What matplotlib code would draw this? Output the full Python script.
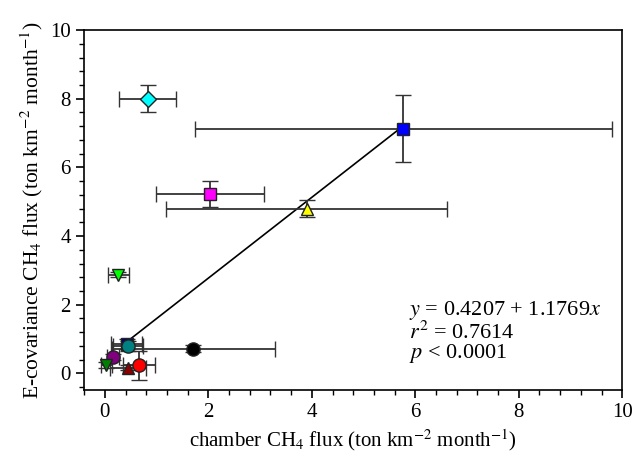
import matplotlib
matplotlib.use("Agg")
import matplotlib.pyplot as plt
from matplotlib.ticker import MultipleLocator

plt.rcParams.update(
    {
        "font.family": "Liberation Serif",
        "mathtext.fontset": "stix",
        "font.size": 15,
    }
)

# chamber flux (x) vs eddy covariance flux (y), one marker per site/month
x_vals = [0.83, 5.77, 2.03, 3.90, 0.26, 1.71, 0.42, 0.44, 0.16, 0.03, 0.44, 0.66]
y_vals = [8.00, 7.13, 5.22, 4.80, 2.88, 0.72, 0.86, 0.80, 0.47, 0.24, 0.17, 0.23]
x_err = [0.55, 4.03, 1.04, 2.71, 0.20, 1.58, 0.30, 0.29, 0.12, 0.10, 0.35, 0.31]
y_err = [0.40, 0.98, 0.37, 0.25, 0.08, 0.10, 0.15, 0.15, 0.08, 0.08, 0.08, 0.42]
markers = ["D", "s", "s", "^", "v", "o", "s", "o", "o", "v", "^", "o"]
colors = ["cyan", "blue", "magenta", "yellow", "lime", "black", "navy",
          "teal", "purple", "green", "darkred", "red"]

# regression line
fit_a, fit_b = 0.4207, 1.1769
fit_x = [0.45, 5.77]
stats_lines = ["$y$ = 0.4207 + 1.1769$x$", "$r^2$ = 0.7614", "$p$ < 0.0001"]

fig, ax = plt.subplots(figsize=(6.33, 4.63), dpi=100)
fig.subplots_adjust(left=0.133, right=0.983, bottom=0.158, top=0.935)

ax.plot(fit_x, [fit_a + fit_b * v for v in fit_x], color="black", lw=1.2, zorder=2)

for xv, yv, xe, ye, m, c in zip(x_vals, y_vals, x_err, y_err, markers, colors):
    ms = 9.5 if m == "o" else 8.5
    ax.errorbar(xv, yv, xerr=xe, yerr=ye, fmt=m, color="#333333", ecolor="#333333",
                elinewidth=1.3, capsize=6, capthick=1.3, markersize=ms,
                markerfacecolor=c, markeredgecolor="#222222", markeredgewidth=1.0,
                zorder=3)

# stats block: first line ends near x=9.75, others share its left edge
t0 = ax.text(9.75, 1.82, stats_lines[0], ha="right", va="center", fontsize=16)
fig.canvas.draw()
bb = t0.get_window_extent().transformed(ax.transData.inverted())
x_left = bb.x0
t0.set_ha("left")
t0.set_x(x_left)
ax.text(x_left, 1.18, stats_lines[1], va="center", fontsize=16)
ax.text(x_left, 0.58, stats_lines[2], va="center", fontsize=16)

ax.set_xlim(-0.4, 10)
ax.set_ylim(-0.48, 10)
ax.xaxis.set_major_locator(MultipleLocator(2))
ax.xaxis.set_minor_locator(MultipleLocator(0.4))
ax.yaxis.set_major_locator(MultipleLocator(2))
ax.yaxis.set_minor_locator(MultipleLocator(0.4))
ax.tick_params(which="major", direction="out", length=6, width=1.2, labelsize=15)
ax.tick_params(which="minor", direction="out", length=3.5, width=1.0)
for sp in ax.spines.values():
    sp.set_linewidth(1.2)

ax.set_xlabel("chamber CH$_4$ flux (ton km$^{-2}$ month$^{-1}$)", fontsize=15)
ax.set_ylabel("E-covariance CH$_4$ flux (ton km$^{-2}$ month$^{-1}$)", fontsize=15.5)

fig.savefig("out.png", dpi=100)
